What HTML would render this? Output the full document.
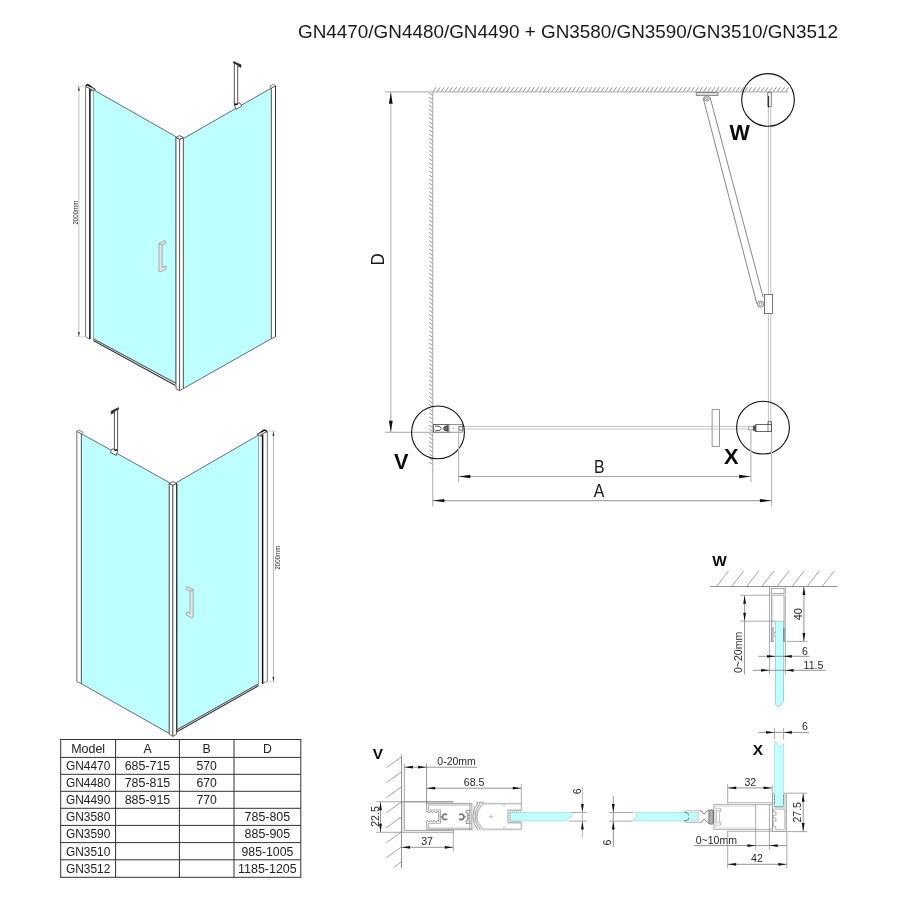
<!DOCTYPE html>
<html><head><meta charset="utf-8"><title>GN drawing</title>
<style>html,body{margin:0;padding:0;background:#fff;}svg{display:block;opacity:0.999;will-change:transform;font-family:'Liberation Sans', sans-serif;}</style>
</head><body>
<svg width="900" height="900" viewBox="0 0 900 900">
<rect x="0" y="0" width="900" height="900" fill="#ffffff"/>
<!-- title -->
<text x="298.00" y="38.40" font-size="18.6" text-anchor="start" font-weight="normal" fill="#1a1a1a" textLength="540.00" lengthAdjust="spacingAndGlyphs" >GN4470/GN4480/GN4490 + GN3580/GN3590/GN3510/GN3512</text>
<!-- iso drawing 1 -->
<g id="iso1">
<path d="M93.20 89.60 L176.00 136.70 L176.00 383.50 L93.20 338.70 Z" fill="#beffff" stroke="#4a4a4a" stroke-width="0.8" />
<path d="M183.30 138.60 L271.40 88.00 L271.40 338.70 L183.30 388.50 Z" fill="#beffff" stroke="#4a4a4a" stroke-width="0.8" />
<path d="M85.60 86.40 L89.80 88.40 L89.80 338.90 L85.60 336.90 Z" fill="#fff" stroke="#6a6a6a" stroke-width="0.9" />
<path d="M89.80 88.40 L93.20 89.60 L93.20 340.20 L89.80 338.90 Z" fill="#f4ffff" stroke="none" stroke-width="0" />
<line x1="89.90" y1="87.80" x2="89.90" y2="339.20" stroke="#161616" stroke-width="1.5" />
<path d="M85.60 86.20 L87.30 84.30 L95.40 89.40 L93.20 90.40 L90.60 89.00 Z" fill="#fff" stroke="#222" stroke-width="0.7" />
<line x1="85.80" y1="85.90" x2="87.40" y2="84.40" stroke="#111" stroke-width="1.3" />
<line x1="87.20" y1="84.50" x2="91.60" y2="87.20" stroke="#111" stroke-width="1.5" />
<line x1="91.60" y1="87.20" x2="95.40" y2="89.50" stroke="#333" stroke-width="0.9" />
<line x1="89.90" y1="90.70" x2="92.20" y2="90.70" stroke="#222" stroke-width="0.9" />
<line x1="93.30" y1="340.50" x2="175.50" y2="385.50" stroke="#333" stroke-width="1.2" />
<line x1="93.30" y1="338.70" x2="176.00" y2="383.20" stroke="#555" stroke-width="0.7" />
<path d="M176.00 137.50 L179.60 139.30 L179.60 390.70 L176.00 388.70 Z" fill="#fff" stroke="#555" stroke-width="0.9" />
<path d="M179.60 139.30 L183.30 137.60 L183.30 388.60 L179.60 390.70 Z" fill="#fff" stroke="#555" stroke-width="0.9" />
<path d="M176.00 137.50 L179.60 135.60 L183.30 137.60 L179.60 139.30 Z" fill="#fff" stroke="#333" stroke-width="0.8" />
<path d="M271.40 88.00 L275.50 85.80 L275.50 336.80 L271.40 338.70 Z" fill="#fff" stroke="#4a4a4a" stroke-width="0.8" />
<line x1="275.50" y1="86.00" x2="275.50" y2="336.80" stroke="#333" stroke-width="0.9" />
<path d="M271.40 88.00 L269.60 86.60 L273.60 84.20 L275.50 85.80 Z" fill="#fff" stroke="#4a4a4a" stroke-width="0.7" />
<path d="M234.30 63.00 L237.70 64.60 L237.70 105.00 L234.30 104.00 Z" fill="#fff" stroke="#2a2a2a" stroke-width="0.8" />
<path d="M233.60 61.40 L241.00 64.80 L241.00 67.40 L238.60 66.40 L238.60 65.20 L233.60 63.00 Z" fill="#333" stroke="#222" stroke-width="0.6" />
<path d="M234.20 104.40 L239.80 102.80 L241.80 106.00 L236.00 109.40 Z" fill="#fff" stroke="#333" stroke-width="0.8" />
<line x1="234.20" y1="104.40" x2="237.70" y2="104.60" stroke="#111" stroke-width="1.2" />
<line x1="234.20" y1="104.00" x2="235.00" y2="101.60" stroke="#4a4a4a" stroke-width="0.6" />
<path d="M159.00 243.40 L165.20 240.60 L166.00 243.20 L162.20 245.00 L162.20 267.60 L165.80 266.00 L166.00 269.00 L160.20 271.80 L159.00 271.20 Z" fill="#e6e6e6" stroke="#8c8c8c" stroke-width="0.7" />
<line x1="159.00" y1="243.40" x2="162.20" y2="245.00" stroke="#777" stroke-width="0.6" />
<line x1="78.90" y1="86.00" x2="78.90" y2="336.80" stroke="#c4c4c4" stroke-width="1.0" />
<line x1="76.00" y1="86.00" x2="85.60" y2="86.00" stroke="#d0d0d0" stroke-width="0.9" />
<line x1="76.00" y1="336.80" x2="85.60" y2="336.80" stroke="#d0d0d0" stroke-width="0.9" />
<path d="M78.90 86.20 L78.00 90.80 L79.80 90.80 Z" fill="#333" stroke="none" stroke-width="0" />
<path d="M78.90 336.60 L78.00 332.00 L79.80 332.00 Z" fill="#333" stroke="none" stroke-width="0" />
<text x="77.90" y="224.60" font-size="6.3" text-anchor="start" font-weight="normal" fill="#222" textLength="24.00" lengthAdjust="spacingAndGlyphs" transform="rotate(-90 77.90 224.60)" >2000mm</text>
</g>
<!-- iso drawing 2 -->
<g id="iso2">
<path d="M81.30 433.70 L169.30 482.50 L169.30 733.50 L81.30 683.70 Z" fill="#beffff" stroke="#4a4a4a" stroke-width="0.8" />
<path d="M176.50 482.50 L258.80 434.90 L258.80 683.70 L176.50 730.00 Z" fill="#beffff" stroke="#4a4a4a" stroke-width="0.8" />
<path d="M76.80 431.40 L81.30 433.70 L81.30 683.70 L76.80 681.60 Z" fill="#fff" stroke="#4a4a4a" stroke-width="0.8" />
<path d="M76.80 431.40 L78.80 430.00 L83.20 432.40 L81.30 433.70 Z" fill="#fff" stroke="#4a4a4a" stroke-width="0.7" />
<path d="M169.30 483.40 L172.90 485.30 L172.90 736.40 L169.30 734.40 Z" fill="#fff" stroke="#555" stroke-width="0.9" />
<path d="M172.90 485.30 L176.50 483.40 L176.50 734.20 L172.90 736.40 Z" fill="#fff" stroke="#555" stroke-width="0.9" />
<path d="M169.30 483.40 L172.90 481.60 L176.50 483.40 L172.90 485.30 Z" fill="#fff" stroke="#333" stroke-width="0.8" />
<line x1="176.90" y1="484.00" x2="176.90" y2="731.50" stroke="#222" stroke-width="1.0" />
<line x1="176.50" y1="732.00" x2="258.70" y2="685.60" stroke="#333" stroke-width="1.2" />
<line x1="176.50" y1="730.00" x2="258.70" y2="683.70" stroke="#555" stroke-width="0.7" />
<path d="M258.80 434.90 L262.60 433.60 L262.60 683.40 L258.80 685.40 Z" fill="#f4ffff" stroke="none" stroke-width="0" />
<path d="M262.60 433.60 L267.40 431.60 L267.40 681.20 L262.60 683.40 Z" fill="#fff" stroke="#8a8a8a" stroke-width="0.9" />
<line x1="262.60" y1="434.60" x2="262.60" y2="683.80" stroke="#161616" stroke-width="1.5" />
<line x1="267.40" y1="431.60" x2="267.40" y2="681.20" stroke="#8a8a8a" stroke-width="1.0" />
<path d="M257.20 434.40 L264.60 429.80 L267.20 431.40 L262.60 433.80 L258.80 435.60 Z" fill="#fff" stroke="#222" stroke-width="0.7" />
<line x1="257.40" y1="434.30" x2="261.00" y2="432.10" stroke="#333" stroke-width="0.9" />
<line x1="261.00" y1="432.10" x2="264.60" y2="429.90" stroke="#111" stroke-width="1.5" />
<line x1="264.40" y1="429.90" x2="267.20" y2="431.50" stroke="#111" stroke-width="1.3" />
<line x1="260.20" y1="436.00" x2="262.60" y2="436.00" stroke="#222" stroke-width="0.9" />
<path d="M114.40 410.40 L117.60 408.80 L117.60 449.40 L114.40 450.40 Z" fill="#fff" stroke="#2a2a2a" stroke-width="0.8" />
<path d="M111.20 411.20 L118.60 407.60 L118.60 409.20 L113.80 411.60 L113.80 412.80 L111.20 414.00 Z" fill="#333" stroke="#222" stroke-width="0.6" />
<path d="M112.00 448.80 L117.80 450.60 L116.20 455.40 L110.20 452.40 Z" fill="#fff" stroke="#333" stroke-width="0.8" />
<line x1="114.40" y1="450.40" x2="117.60" y2="450.00" stroke="#111" stroke-width="1.2" />
<path d="M193.20 589.40 L187.00 586.60 L186.20 589.20 L190.00 591.00 L190.00 613.60 L186.40 612.00 L186.20 615.00 L192.00 617.80 L193.20 617.20 Z" fill="#e6e6e6" stroke="#8c8c8c" stroke-width="0.7" />
<line x1="193.20" y1="589.40" x2="190.00" y2="591.00" stroke="#777" stroke-width="0.6" />
<line x1="273.40" y1="431.10" x2="273.40" y2="681.80" stroke="#b8b8b8" stroke-width="1.0" />
<line x1="267.40" y1="431.10" x2="276.00" y2="431.10" stroke="#d0d0d0" stroke-width="0.9" />
<line x1="267.40" y1="681.80" x2="276.00" y2="681.80" stroke="#d0d0d0" stroke-width="0.9" />
<path d="M273.40 431.30 L272.50 435.90 L274.30 435.90 Z" fill="#333" stroke="none" stroke-width="0" />
<path d="M273.40 681.60 L272.50 677.00 L274.30 677.00 Z" fill="#333" stroke="none" stroke-width="0" />
<text x="279.60" y="569.60" font-size="6.3" text-anchor="start" font-weight="normal" fill="#222" textLength="24.00" lengthAdjust="spacingAndGlyphs" transform="rotate(-90 279.60 569.60)" >2000mm</text>
</g>
<!-- table -->
<g id="table">
<line x1="60.70" y1="739.50" x2="300.80" y2="739.50" stroke="#333" stroke-width="1" />
<line x1="60.70" y1="757.40" x2="300.80" y2="757.40" stroke="#333" stroke-width="1" />
<line x1="60.70" y1="774.30" x2="300.80" y2="774.30" stroke="#333" stroke-width="1" />
<line x1="60.70" y1="791.30" x2="300.80" y2="791.30" stroke="#333" stroke-width="1" />
<line x1="60.70" y1="808.30" x2="300.80" y2="808.30" stroke="#333" stroke-width="1" />
<line x1="60.70" y1="825.40" x2="300.80" y2="825.40" stroke="#333" stroke-width="1" />
<line x1="60.70" y1="842.60" x2="300.80" y2="842.60" stroke="#333" stroke-width="1" />
<line x1="60.70" y1="859.80" x2="300.80" y2="859.80" stroke="#333" stroke-width="1" />
<line x1="60.70" y1="877.30" x2="300.80" y2="877.30" stroke="#333" stroke-width="1" />
<line x1="60.70" y1="739.00" x2="60.70" y2="877.80" stroke="#333" stroke-width="1" />
<line x1="115.60" y1="739.00" x2="115.60" y2="877.80" stroke="#333" stroke-width="1" />
<line x1="179.40" y1="739.00" x2="179.40" y2="877.80" stroke="#333" stroke-width="1" />
<line x1="234.00" y1="739.00" x2="234.00" y2="877.80" stroke="#333" stroke-width="1" />
<line x1="300.80" y1="739.00" x2="300.80" y2="877.80" stroke="#333" stroke-width="1" />
<text x="88.15" y="752.75" font-size="12.3" text-anchor="middle" font-weight="normal" fill="#222" textLength="34.00" lengthAdjust="spacingAndGlyphs" >Model</text>
<text x="147.50" y="752.75" font-size="12.3" text-anchor="middle" font-weight="normal" fill="#222" >A</text>
<text x="206.70" y="752.75" font-size="12.3" text-anchor="middle" font-weight="normal" fill="#222" >B</text>
<text x="267.40" y="752.75" font-size="12.3" text-anchor="middle" font-weight="normal" fill="#222" >D</text>
<text x="88.15" y="770.15" font-size="12.3" text-anchor="middle" font-weight="normal" fill="#222" textLength="44.40" lengthAdjust="spacingAndGlyphs" >GN4470</text>
<text x="147.50" y="770.15" font-size="12.3" text-anchor="middle" font-weight="normal" fill="#222" textLength="45.60" lengthAdjust="spacingAndGlyphs" >685-715</text>
<text x="206.70" y="770.15" font-size="12.3" text-anchor="middle" font-weight="normal" fill="#222" textLength="20.40" lengthAdjust="spacingAndGlyphs" >570</text>
<text x="88.15" y="787.10" font-size="12.3" text-anchor="middle" font-weight="normal" fill="#222" textLength="44.40" lengthAdjust="spacingAndGlyphs" >GN4480</text>
<text x="147.50" y="787.10" font-size="12.3" text-anchor="middle" font-weight="normal" fill="#222" textLength="45.60" lengthAdjust="spacingAndGlyphs" >785-815</text>
<text x="206.70" y="787.10" font-size="12.3" text-anchor="middle" font-weight="normal" fill="#222" textLength="20.40" lengthAdjust="spacingAndGlyphs" >670</text>
<text x="88.15" y="804.10" font-size="12.3" text-anchor="middle" font-weight="normal" fill="#222" textLength="44.40" lengthAdjust="spacingAndGlyphs" >GN4490</text>
<text x="147.50" y="804.10" font-size="12.3" text-anchor="middle" font-weight="normal" fill="#222" textLength="45.60" lengthAdjust="spacingAndGlyphs" >885-915</text>
<text x="206.70" y="804.10" font-size="12.3" text-anchor="middle" font-weight="normal" fill="#222" textLength="20.40" lengthAdjust="spacingAndGlyphs" >770</text>
<text x="88.15" y="821.15" font-size="12.3" text-anchor="middle" font-weight="normal" fill="#222" textLength="44.40" lengthAdjust="spacingAndGlyphs" >GN3580</text>
<text x="267.40" y="821.15" font-size="12.3" text-anchor="middle" font-weight="normal" fill="#222" textLength="45.60" lengthAdjust="spacingAndGlyphs" >785-805</text>
<text x="88.15" y="838.30" font-size="12.3" text-anchor="middle" font-weight="normal" fill="#222" textLength="44.40" lengthAdjust="spacingAndGlyphs" >GN3590</text>
<text x="267.40" y="838.30" font-size="12.3" text-anchor="middle" font-weight="normal" fill="#222" textLength="45.60" lengthAdjust="spacingAndGlyphs" >885-905</text>
<text x="88.15" y="855.50" font-size="12.3" text-anchor="middle" font-weight="normal" fill="#222" textLength="44.40" lengthAdjust="spacingAndGlyphs" >GN3510</text>
<text x="267.40" y="855.50" font-size="12.3" text-anchor="middle" font-weight="normal" fill="#222" textLength="51.80" lengthAdjust="spacingAndGlyphs" >985-1005</text>
<text x="88.15" y="872.85" font-size="12.3" text-anchor="middle" font-weight="normal" fill="#222" textLength="44.40" lengthAdjust="spacingAndGlyphs" >GN3512</text>
<text x="267.40" y="872.85" font-size="12.3" text-anchor="middle" font-weight="normal" fill="#222" textLength="58.60" lengthAdjust="spacingAndGlyphs" >1185-1205</text>
</g>
<!-- plan view -->
<g id="plan">
<line x1="432.70" y1="91.90" x2="788.00" y2="91.90" stroke="#bcbcbc" stroke-width="1.3" />
<line x1="433.00" y1="91.60" x2="436.10" y2="87.20" stroke="#707070" stroke-width="0.75" />
<line x1="437.10" y1="91.60" x2="440.20" y2="87.20" stroke="#707070" stroke-width="0.75" />
<line x1="441.20" y1="91.60" x2="444.30" y2="87.20" stroke="#707070" stroke-width="0.75" />
<line x1="445.30" y1="91.60" x2="448.40" y2="87.20" stroke="#707070" stroke-width="0.75" />
<line x1="449.40" y1="91.60" x2="452.50" y2="87.20" stroke="#707070" stroke-width="0.75" />
<line x1="453.50" y1="91.60" x2="456.60" y2="87.20" stroke="#707070" stroke-width="0.75" />
<line x1="457.60" y1="91.60" x2="460.70" y2="87.20" stroke="#707070" stroke-width="0.75" />
<line x1="461.70" y1="91.60" x2="464.80" y2="87.20" stroke="#707070" stroke-width="0.75" />
<line x1="465.80" y1="91.60" x2="468.90" y2="87.20" stroke="#707070" stroke-width="0.75" />
<line x1="469.90" y1="91.60" x2="473.00" y2="87.20" stroke="#707070" stroke-width="0.75" />
<line x1="474.00" y1="91.60" x2="477.10" y2="87.20" stroke="#707070" stroke-width="0.75" />
<line x1="478.10" y1="91.60" x2="481.20" y2="87.20" stroke="#707070" stroke-width="0.75" />
<line x1="482.20" y1="91.60" x2="485.30" y2="87.20" stroke="#707070" stroke-width="0.75" />
<line x1="486.30" y1="91.60" x2="489.40" y2="87.20" stroke="#707070" stroke-width="0.75" />
<line x1="490.40" y1="91.60" x2="493.50" y2="87.20" stroke="#707070" stroke-width="0.75" />
<line x1="494.50" y1="91.60" x2="497.60" y2="87.20" stroke="#707070" stroke-width="0.75" />
<line x1="498.60" y1="91.60" x2="501.70" y2="87.20" stroke="#707070" stroke-width="0.75" />
<line x1="502.70" y1="91.60" x2="505.80" y2="87.20" stroke="#707070" stroke-width="0.75" />
<line x1="506.80" y1="91.60" x2="509.90" y2="87.20" stroke="#707070" stroke-width="0.75" />
<line x1="510.90" y1="91.60" x2="514.00" y2="87.20" stroke="#707070" stroke-width="0.75" />
<line x1="515.00" y1="91.60" x2="518.10" y2="87.20" stroke="#707070" stroke-width="0.75" />
<line x1="519.10" y1="91.60" x2="522.20" y2="87.20" stroke="#707070" stroke-width="0.75" />
<line x1="523.20" y1="91.60" x2="526.30" y2="87.20" stroke="#707070" stroke-width="0.75" />
<line x1="527.30" y1="91.60" x2="530.40" y2="87.20" stroke="#707070" stroke-width="0.75" />
<line x1="531.40" y1="91.60" x2="534.50" y2="87.20" stroke="#707070" stroke-width="0.75" />
<line x1="535.50" y1="91.60" x2="538.60" y2="87.20" stroke="#707070" stroke-width="0.75" />
<line x1="539.60" y1="91.60" x2="542.70" y2="87.20" stroke="#707070" stroke-width="0.75" />
<line x1="543.70" y1="91.60" x2="546.80" y2="87.20" stroke="#707070" stroke-width="0.75" />
<line x1="547.80" y1="91.60" x2="550.90" y2="87.20" stroke="#707070" stroke-width="0.75" />
<line x1="551.90" y1="91.60" x2="555.00" y2="87.20" stroke="#707070" stroke-width="0.75" />
<line x1="556.00" y1="91.60" x2="559.10" y2="87.20" stroke="#707070" stroke-width="0.75" />
<line x1="560.10" y1="91.60" x2="563.20" y2="87.20" stroke="#707070" stroke-width="0.75" />
<line x1="564.20" y1="91.60" x2="567.30" y2="87.20" stroke="#707070" stroke-width="0.75" />
<line x1="568.30" y1="91.60" x2="571.40" y2="87.20" stroke="#707070" stroke-width="0.75" />
<line x1="572.40" y1="91.60" x2="575.50" y2="87.20" stroke="#707070" stroke-width="0.75" />
<line x1="576.50" y1="91.60" x2="579.60" y2="87.20" stroke="#707070" stroke-width="0.75" />
<line x1="580.60" y1="91.60" x2="583.70" y2="87.20" stroke="#707070" stroke-width="0.75" />
<line x1="584.70" y1="91.60" x2="587.80" y2="87.20" stroke="#707070" stroke-width="0.75" />
<line x1="588.80" y1="91.60" x2="591.90" y2="87.20" stroke="#707070" stroke-width="0.75" />
<line x1="592.90" y1="91.60" x2="596.00" y2="87.20" stroke="#707070" stroke-width="0.75" />
<line x1="597.00" y1="91.60" x2="600.10" y2="87.20" stroke="#707070" stroke-width="0.75" />
<line x1="601.10" y1="91.60" x2="604.20" y2="87.20" stroke="#707070" stroke-width="0.75" />
<line x1="605.20" y1="91.60" x2="608.30" y2="87.20" stroke="#707070" stroke-width="0.75" />
<line x1="609.30" y1="91.60" x2="612.40" y2="87.20" stroke="#707070" stroke-width="0.75" />
<line x1="613.40" y1="91.60" x2="616.50" y2="87.20" stroke="#707070" stroke-width="0.75" />
<line x1="617.50" y1="91.60" x2="620.60" y2="87.20" stroke="#707070" stroke-width="0.75" />
<line x1="621.60" y1="91.60" x2="624.70" y2="87.20" stroke="#707070" stroke-width="0.75" />
<line x1="625.70" y1="91.60" x2="628.80" y2="87.20" stroke="#707070" stroke-width="0.75" />
<line x1="629.80" y1="91.60" x2="632.90" y2="87.20" stroke="#707070" stroke-width="0.75" />
<line x1="633.90" y1="91.60" x2="637.00" y2="87.20" stroke="#707070" stroke-width="0.75" />
<line x1="638.00" y1="91.60" x2="641.10" y2="87.20" stroke="#707070" stroke-width="0.75" />
<line x1="642.10" y1="91.60" x2="645.20" y2="87.20" stroke="#707070" stroke-width="0.75" />
<line x1="646.20" y1="91.60" x2="649.30" y2="87.20" stroke="#707070" stroke-width="0.75" />
<line x1="650.30" y1="91.60" x2="653.40" y2="87.20" stroke="#707070" stroke-width="0.75" />
<line x1="654.40" y1="91.60" x2="657.50" y2="87.20" stroke="#707070" stroke-width="0.75" />
<line x1="658.50" y1="91.60" x2="661.60" y2="87.20" stroke="#707070" stroke-width="0.75" />
<line x1="662.60" y1="91.60" x2="665.70" y2="87.20" stroke="#707070" stroke-width="0.75" />
<line x1="666.70" y1="91.60" x2="669.80" y2="87.20" stroke="#707070" stroke-width="0.75" />
<line x1="670.80" y1="91.60" x2="673.90" y2="87.20" stroke="#707070" stroke-width="0.75" />
<line x1="674.90" y1="91.60" x2="678.00" y2="87.20" stroke="#707070" stroke-width="0.75" />
<line x1="679.00" y1="91.60" x2="682.10" y2="87.20" stroke="#707070" stroke-width="0.75" />
<line x1="683.10" y1="91.60" x2="686.20" y2="87.20" stroke="#707070" stroke-width="0.75" />
<line x1="687.20" y1="91.60" x2="690.30" y2="87.20" stroke="#707070" stroke-width="0.75" />
<line x1="691.30" y1="91.60" x2="694.40" y2="87.20" stroke="#707070" stroke-width="0.75" />
<line x1="695.40" y1="91.60" x2="698.50" y2="87.20" stroke="#707070" stroke-width="0.75" />
<line x1="699.50" y1="91.60" x2="702.60" y2="87.20" stroke="#707070" stroke-width="0.75" />
<line x1="703.60" y1="91.60" x2="706.70" y2="87.20" stroke="#707070" stroke-width="0.75" />
<line x1="707.70" y1="91.60" x2="710.80" y2="87.20" stroke="#707070" stroke-width="0.75" />
<line x1="711.80" y1="91.60" x2="714.90" y2="87.20" stroke="#707070" stroke-width="0.75" />
<line x1="715.90" y1="91.60" x2="719.00" y2="87.20" stroke="#707070" stroke-width="0.75" />
<line x1="720.00" y1="91.60" x2="723.10" y2="87.20" stroke="#707070" stroke-width="0.75" />
<line x1="724.10" y1="91.60" x2="727.20" y2="87.20" stroke="#707070" stroke-width="0.75" />
<line x1="728.20" y1="91.60" x2="731.30" y2="87.20" stroke="#707070" stroke-width="0.75" />
<line x1="732.30" y1="91.60" x2="735.40" y2="87.20" stroke="#707070" stroke-width="0.75" />
<line x1="736.40" y1="91.60" x2="739.50" y2="87.20" stroke="#707070" stroke-width="0.75" />
<line x1="740.50" y1="91.60" x2="743.60" y2="87.20" stroke="#707070" stroke-width="0.75" />
<line x1="744.60" y1="91.60" x2="747.70" y2="87.20" stroke="#707070" stroke-width="0.75" />
<line x1="748.70" y1="91.60" x2="751.80" y2="87.20" stroke="#707070" stroke-width="0.75" />
<line x1="752.80" y1="91.60" x2="755.90" y2="87.20" stroke="#707070" stroke-width="0.75" />
<line x1="756.90" y1="91.60" x2="760.00" y2="87.20" stroke="#707070" stroke-width="0.75" />
<line x1="761.00" y1="91.60" x2="764.10" y2="87.20" stroke="#707070" stroke-width="0.75" />
<line x1="765.10" y1="91.60" x2="768.20" y2="87.20" stroke="#707070" stroke-width="0.75" />
<line x1="769.20" y1="91.60" x2="772.30" y2="87.20" stroke="#707070" stroke-width="0.75" />
<line x1="773.30" y1="91.60" x2="776.40" y2="87.20" stroke="#707070" stroke-width="0.75" />
<line x1="777.40" y1="91.60" x2="780.50" y2="87.20" stroke="#707070" stroke-width="0.75" />
<line x1="781.50" y1="91.60" x2="784.60" y2="87.20" stroke="#707070" stroke-width="0.75" />
<line x1="785.60" y1="91.60" x2="788.70" y2="87.20" stroke="#707070" stroke-width="0.75" />
<line x1="432.70" y1="91.90" x2="432.70" y2="506.40" stroke="#bcbcbc" stroke-width="1.3" />
<line x1="432.50" y1="95.40" x2="429.20" y2="93.00" stroke="#707070" stroke-width="0.75" />
<line x1="432.50" y1="99.50" x2="429.20" y2="97.10" stroke="#707070" stroke-width="0.75" />
<line x1="432.50" y1="103.60" x2="429.20" y2="101.20" stroke="#707070" stroke-width="0.75" />
<line x1="432.50" y1="107.70" x2="429.20" y2="105.30" stroke="#707070" stroke-width="0.75" />
<line x1="432.50" y1="111.80" x2="429.20" y2="109.40" stroke="#707070" stroke-width="0.75" />
<line x1="432.50" y1="115.90" x2="429.20" y2="113.50" stroke="#707070" stroke-width="0.75" />
<line x1="432.50" y1="120.00" x2="429.20" y2="117.60" stroke="#707070" stroke-width="0.75" />
<line x1="432.50" y1="124.10" x2="429.20" y2="121.70" stroke="#707070" stroke-width="0.75" />
<line x1="432.50" y1="128.20" x2="429.20" y2="125.80" stroke="#707070" stroke-width="0.75" />
<line x1="432.50" y1="132.30" x2="429.20" y2="129.90" stroke="#707070" stroke-width="0.75" />
<line x1="432.50" y1="136.40" x2="429.20" y2="134.00" stroke="#707070" stroke-width="0.75" />
<line x1="432.50" y1="140.50" x2="429.20" y2="138.10" stroke="#707070" stroke-width="0.75" />
<line x1="432.50" y1="144.60" x2="429.20" y2="142.20" stroke="#707070" stroke-width="0.75" />
<line x1="432.50" y1="148.70" x2="429.20" y2="146.30" stroke="#707070" stroke-width="0.75" />
<line x1="432.50" y1="152.80" x2="429.20" y2="150.40" stroke="#707070" stroke-width="0.75" />
<line x1="432.50" y1="156.90" x2="429.20" y2="154.50" stroke="#707070" stroke-width="0.75" />
<line x1="432.50" y1="161.00" x2="429.20" y2="158.60" stroke="#707070" stroke-width="0.75" />
<line x1="432.50" y1="165.10" x2="429.20" y2="162.70" stroke="#707070" stroke-width="0.75" />
<line x1="432.50" y1="169.20" x2="429.20" y2="166.80" stroke="#707070" stroke-width="0.75" />
<line x1="432.50" y1="173.30" x2="429.20" y2="170.90" stroke="#707070" stroke-width="0.75" />
<line x1="432.50" y1="177.40" x2="429.20" y2="175.00" stroke="#707070" stroke-width="0.75" />
<line x1="432.50" y1="181.50" x2="429.20" y2="179.10" stroke="#707070" stroke-width="0.75" />
<line x1="432.50" y1="185.60" x2="429.20" y2="183.20" stroke="#707070" stroke-width="0.75" />
<line x1="432.50" y1="189.70" x2="429.20" y2="187.30" stroke="#707070" stroke-width="0.75" />
<line x1="432.50" y1="193.80" x2="429.20" y2="191.40" stroke="#707070" stroke-width="0.75" />
<line x1="432.50" y1="197.90" x2="429.20" y2="195.50" stroke="#707070" stroke-width="0.75" />
<line x1="432.50" y1="202.00" x2="429.20" y2="199.60" stroke="#707070" stroke-width="0.75" />
<line x1="432.50" y1="206.10" x2="429.20" y2="203.70" stroke="#707070" stroke-width="0.75" />
<line x1="432.50" y1="210.20" x2="429.20" y2="207.80" stroke="#707070" stroke-width="0.75" />
<line x1="432.50" y1="214.30" x2="429.20" y2="211.90" stroke="#707070" stroke-width="0.75" />
<line x1="432.50" y1="218.40" x2="429.20" y2="216.00" stroke="#707070" stroke-width="0.75" />
<line x1="432.50" y1="222.50" x2="429.20" y2="220.10" stroke="#707070" stroke-width="0.75" />
<line x1="432.50" y1="226.60" x2="429.20" y2="224.20" stroke="#707070" stroke-width="0.75" />
<line x1="432.50" y1="230.70" x2="429.20" y2="228.30" stroke="#707070" stroke-width="0.75" />
<line x1="432.50" y1="234.80" x2="429.20" y2="232.40" stroke="#707070" stroke-width="0.75" />
<line x1="432.50" y1="238.90" x2="429.20" y2="236.50" stroke="#707070" stroke-width="0.75" />
<line x1="432.50" y1="243.00" x2="429.20" y2="240.60" stroke="#707070" stroke-width="0.75" />
<line x1="432.50" y1="247.10" x2="429.20" y2="244.70" stroke="#707070" stroke-width="0.75" />
<line x1="432.50" y1="251.20" x2="429.20" y2="248.80" stroke="#707070" stroke-width="0.75" />
<line x1="432.50" y1="255.30" x2="429.20" y2="252.90" stroke="#707070" stroke-width="0.75" />
<line x1="432.50" y1="259.40" x2="429.20" y2="257.00" stroke="#707070" stroke-width="0.75" />
<line x1="432.50" y1="263.50" x2="429.20" y2="261.10" stroke="#707070" stroke-width="0.75" />
<line x1="432.50" y1="267.60" x2="429.20" y2="265.20" stroke="#707070" stroke-width="0.75" />
<line x1="432.50" y1="271.70" x2="429.20" y2="269.30" stroke="#707070" stroke-width="0.75" />
<line x1="432.50" y1="275.80" x2="429.20" y2="273.40" stroke="#707070" stroke-width="0.75" />
<line x1="432.50" y1="279.90" x2="429.20" y2="277.50" stroke="#707070" stroke-width="0.75" />
<line x1="432.50" y1="284.00" x2="429.20" y2="281.60" stroke="#707070" stroke-width="0.75" />
<line x1="432.50" y1="288.10" x2="429.20" y2="285.70" stroke="#707070" stroke-width="0.75" />
<line x1="432.50" y1="292.20" x2="429.20" y2="289.80" stroke="#707070" stroke-width="0.75" />
<line x1="432.50" y1="296.30" x2="429.20" y2="293.90" stroke="#707070" stroke-width="0.75" />
<line x1="432.50" y1="300.40" x2="429.20" y2="298.00" stroke="#707070" stroke-width="0.75" />
<line x1="432.50" y1="304.50" x2="429.20" y2="302.10" stroke="#707070" stroke-width="0.75" />
<line x1="432.50" y1="308.60" x2="429.20" y2="306.20" stroke="#707070" stroke-width="0.75" />
<line x1="432.50" y1="312.70" x2="429.20" y2="310.30" stroke="#707070" stroke-width="0.75" />
<line x1="432.50" y1="316.80" x2="429.20" y2="314.40" stroke="#707070" stroke-width="0.75" />
<line x1="432.50" y1="320.90" x2="429.20" y2="318.50" stroke="#707070" stroke-width="0.75" />
<line x1="432.50" y1="325.00" x2="429.20" y2="322.60" stroke="#707070" stroke-width="0.75" />
<line x1="432.50" y1="329.10" x2="429.20" y2="326.70" stroke="#707070" stroke-width="0.75" />
<line x1="432.50" y1="333.20" x2="429.20" y2="330.80" stroke="#707070" stroke-width="0.75" />
<line x1="432.50" y1="337.30" x2="429.20" y2="334.90" stroke="#707070" stroke-width="0.75" />
<line x1="432.50" y1="341.40" x2="429.20" y2="339.00" stroke="#707070" stroke-width="0.75" />
<line x1="432.50" y1="345.50" x2="429.20" y2="343.10" stroke="#707070" stroke-width="0.75" />
<line x1="432.50" y1="349.60" x2="429.20" y2="347.20" stroke="#707070" stroke-width="0.75" />
<line x1="432.50" y1="353.70" x2="429.20" y2="351.30" stroke="#707070" stroke-width="0.75" />
<line x1="432.50" y1="357.80" x2="429.20" y2="355.40" stroke="#707070" stroke-width="0.75" />
<line x1="432.50" y1="361.90" x2="429.20" y2="359.50" stroke="#707070" stroke-width="0.75" />
<line x1="432.50" y1="366.00" x2="429.20" y2="363.60" stroke="#707070" stroke-width="0.75" />
<line x1="432.50" y1="370.10" x2="429.20" y2="367.70" stroke="#707070" stroke-width="0.75" />
<line x1="432.50" y1="374.20" x2="429.20" y2="371.80" stroke="#707070" stroke-width="0.75" />
<line x1="432.50" y1="378.30" x2="429.20" y2="375.90" stroke="#707070" stroke-width="0.75" />
<line x1="432.50" y1="382.40" x2="429.20" y2="380.00" stroke="#707070" stroke-width="0.75" />
<line x1="432.50" y1="386.50" x2="429.20" y2="384.10" stroke="#707070" stroke-width="0.75" />
<line x1="432.50" y1="390.60" x2="429.20" y2="388.20" stroke="#707070" stroke-width="0.75" />
<line x1="432.50" y1="394.70" x2="429.20" y2="392.30" stroke="#707070" stroke-width="0.75" />
<line x1="432.50" y1="398.80" x2="429.20" y2="396.40" stroke="#707070" stroke-width="0.75" />
<line x1="432.50" y1="402.90" x2="429.20" y2="400.50" stroke="#707070" stroke-width="0.75" />
<line x1="432.50" y1="407.00" x2="429.20" y2="404.60" stroke="#707070" stroke-width="0.75" />
<line x1="432.50" y1="411.10" x2="429.20" y2="408.70" stroke="#707070" stroke-width="0.75" />
<line x1="432.50" y1="415.20" x2="429.20" y2="412.80" stroke="#707070" stroke-width="0.75" />
<line x1="432.50" y1="419.30" x2="429.20" y2="416.90" stroke="#707070" stroke-width="0.75" />
<line x1="432.50" y1="423.40" x2="429.20" y2="421.00" stroke="#707070" stroke-width="0.75" />
<line x1="432.50" y1="427.50" x2="429.20" y2="425.10" stroke="#707070" stroke-width="0.75" />
<line x1="432.50" y1="431.60" x2="429.20" y2="429.20" stroke="#707070" stroke-width="0.75" />
<line x1="432.50" y1="435.70" x2="429.20" y2="433.30" stroke="#707070" stroke-width="0.75" />
<line x1="432.50" y1="439.80" x2="429.20" y2="437.40" stroke="#707070" stroke-width="0.75" />
<line x1="432.50" y1="443.90" x2="429.20" y2="441.50" stroke="#707070" stroke-width="0.75" />
<line x1="432.50" y1="448.00" x2="429.20" y2="445.60" stroke="#707070" stroke-width="0.75" />
<line x1="432.50" y1="452.10" x2="429.20" y2="449.70" stroke="#707070" stroke-width="0.75" />
<line x1="432.50" y1="456.20" x2="429.20" y2="453.80" stroke="#707070" stroke-width="0.75" />
<line x1="432.50" y1="460.30" x2="429.20" y2="457.90" stroke="#707070" stroke-width="0.75" />
<line x1="432.50" y1="464.40" x2="429.20" y2="462.00" stroke="#707070" stroke-width="0.75" />
<line x1="390.80" y1="92.00" x2="390.80" y2="432.40" stroke="#bcbcbc" stroke-width="1.2" />
<line x1="385.00" y1="91.90" x2="432.70" y2="91.90" stroke="#bcbcbc" stroke-width="1.2" />
<line x1="385.00" y1="432.40" x2="433.00" y2="432.40" stroke="#bcbcbc" stroke-width="1.2" />
<path d="M390.80 92.20 L388.90 103.70 L392.70 103.70 Z" fill="#111" stroke="none" stroke-width="0" />
<path d="M390.80 432.20 L388.90 420.70 L392.70 420.70 Z" fill="#111" stroke="none" stroke-width="0" />
<text x="384.40" y="265.60" font-size="18.2" text-anchor="start" font-weight="normal" fill="#1a1a1a" textLength="12.20" lengthAdjust="spacingAndGlyphs" transform="rotate(-90 384.40 265.60)" >D</text>
<line x1="768.40" y1="92.00" x2="768.40" y2="425.00" stroke="#bcbcbc" stroke-width="0.9" />
<line x1="770.80" y1="92.00" x2="770.80" y2="425.00" stroke="#bcbcbc" stroke-width="0.9" />
<rect x="767.80" y="92.40" width="3.40" height="14.20" fill="#fff" stroke="#555" stroke-width="0.7"/>
<line x1="768.60" y1="96.00" x2="768.60" y2="107.50" stroke="#222" stroke-width="1.0" />
<line x1="462.00" y1="426.40" x2="748.60" y2="426.40" stroke="#bcbcbc" stroke-width="0.9" />
<line x1="462.00" y1="429.00" x2="748.60" y2="429.00" stroke="#bcbcbc" stroke-width="0.9" />
<rect x="696.20" y="92.40" width="21.80" height="3.20" fill="#ddd" stroke="#666" stroke-width="0.7"/>
<line x1="703.00" y1="97.50" x2="756.80" y2="303.50" stroke="#555" stroke-width="0.7" />
<line x1="710.00" y1="97.00" x2="763.10" y2="297.00" stroke="#555" stroke-width="0.7" />
<circle cx="706.70" cy="98.50" r="2.60" fill="#fff" stroke="#555" stroke-width="0.7"/>
<circle cx="706.70" cy="98.50" r="1.10" fill="none" stroke="#555" stroke-width="0.6"/>
<circle cx="760.50" cy="304.10" r="3.10" fill="#fff" stroke="#555" stroke-width="0.7"/>
<circle cx="760.50" cy="304.10" r="1.40" fill="none" stroke="#555" stroke-width="0.6"/>
<rect x="764.40" y="294.40" width="8.00" height="19.00" fill="#fff" stroke="#555" stroke-width="0.8"/>
<rect x="712.10" y="409.70" width="7.40" height="36.60" fill="#fff" stroke="#666" stroke-width="0.7"/>
<line x1="712.10" y1="426.40" x2="719.50" y2="426.40" stroke="#bcbcbc" stroke-width="0.8" />
<line x1="712.10" y1="429.00" x2="719.50" y2="429.00" stroke="#bcbcbc" stroke-width="0.8" />
<rect x="433.40" y="424.60" width="15.60" height="7.60" fill="#fff" stroke="#444" stroke-width="0.8"/>
<path d="M435.00 426.00 L439.60 426.40 L441.40 428.40 L439.60 430.40 L435.00 430.80" fill="none" stroke="#222" stroke-width="0.8" />
<path d="M447.80 425.60 L444.60 426.40 L443.40 428.40 L444.60 430.40 L447.80 431.20 Z" fill="#666" stroke="#222" stroke-width="0.7" />
<rect x="449.00" y="424.60" width="13.40" height="7.60" fill="#fff" stroke="#666" stroke-width="0.7"/>
<circle cx="453.40" cy="428.40" r="0.60" fill="#888" stroke="none" stroke-width="0"/>
<path d="M462.40 426.60 L458.80 426.60 L458.80 430.20 L462.40 430.20" fill="none" stroke="#333" stroke-width="0.7" />
<rect x="755.80" y="424.60" width="15.80" height="7.00" fill="#fff" stroke="#444" stroke-width="0.8"/>
<rect x="748.80" y="426.80" width="4.60" height="3.00" fill="#fff" stroke="#666" stroke-width="0.6"/>
<path d="M753.40 426.00 L755.80 425.20 L755.80 431.20 L753.40 430.40 Z" fill="#555" stroke="#333" stroke-width="0.5" />
<line x1="768.00" y1="421.60" x2="768.00" y2="431.60" stroke="#444" stroke-width="0.7" />
<line x1="771.40" y1="421.60" x2="771.40" y2="431.60" stroke="#444" stroke-width="0.7" />
<line x1="768.00" y1="421.60" x2="771.40" y2="421.60" stroke="#444" stroke-width="0.7" />
<circle cx="768.00" cy="99.90" r="26.30" fill="none" stroke="#111" stroke-width="1.1"/>
<circle cx="438.00" cy="432.40" r="26.40" fill="none" stroke="#111" stroke-width="1.1"/>
<circle cx="763.00" cy="427.60" r="26.40" fill="none" stroke="#111" stroke-width="1.1"/>
<line x1="458.60" y1="431.00" x2="458.60" y2="482.00" stroke="#bcbcbc" stroke-width="1.2" />
<line x1="750.90" y1="429.60" x2="750.90" y2="482.00" stroke="#bcbcbc" stroke-width="1.2" />
<line x1="458.60" y1="476.50" x2="750.90" y2="476.50" stroke="#a8a8a8" stroke-width="1.2" />
<path d="M458.80 476.50 L470.30 474.80 L470.30 478.20 Z" fill="#111" stroke="none" stroke-width="0" />
<path d="M750.70 476.50 L739.20 474.80 L739.20 478.20 Z" fill="#111" stroke="none" stroke-width="0" />
<line x1="771.60" y1="432.00" x2="771.60" y2="506.40" stroke="#bcbcbc" stroke-width="1.2" />
<line x1="432.70" y1="500.60" x2="771.60" y2="500.60" stroke="#a8a8a8" stroke-width="1.2" />
<path d="M432.90 500.60 L444.40 498.90 L444.40 502.30 Z" fill="#111" stroke="none" stroke-width="0" />
<path d="M771.40 500.60 L759.90 498.90 L759.90 502.30 Z" fill="#111" stroke="none" stroke-width="0" />
<text x="599.20" y="472.50" font-size="17.6" text-anchor="middle" font-weight="normal" fill="#1a1a1a" textLength="10.60" lengthAdjust="spacingAndGlyphs" >B</text>
<text x="599.10" y="497.00" font-size="17.6" text-anchor="middle" font-weight="normal" fill="#1a1a1a" textLength="10.60" lengthAdjust="spacingAndGlyphs" >A</text>
<text x="739.80" y="139.60" font-size="21.6" text-anchor="middle" font-weight="bold" fill="#0a0a0a" >W</text>
<text x="401.30" y="469.00" font-size="21.7" text-anchor="middle" font-weight="bold" fill="#0a0a0a" >V</text>
<text x="731.30" y="463.70" font-size="21.8" text-anchor="middle" font-weight="bold" fill="#0a0a0a" >X</text>
</g>
<!-- W detail -->
<g id="detW">
<text x="719.40" y="565.50" font-size="15.4" text-anchor="middle" font-weight="bold" fill="#0a0a0a" >W</text>
<line x1="710.10" y1="586.50" x2="837.60" y2="586.50" stroke="#787878" stroke-width="0.8" />
<line x1="716.50" y1="586.50" x2="728.50" y2="571.10" stroke="#787878" stroke-width="0.7" />
<line x1="731.60" y1="586.50" x2="743.60" y2="571.10" stroke="#787878" stroke-width="0.7" />
<line x1="746.70" y1="586.50" x2="758.70" y2="571.10" stroke="#787878" stroke-width="0.7" />
<line x1="761.80" y1="586.50" x2="773.80" y2="571.10" stroke="#787878" stroke-width="0.7" />
<line x1="776.90" y1="586.50" x2="788.90" y2="571.10" stroke="#787878" stroke-width="0.7" />
<line x1="792.00" y1="586.50" x2="804.00" y2="571.10" stroke="#787878" stroke-width="0.7" />
<line x1="807.10" y1="586.50" x2="819.10" y2="571.10" stroke="#787878" stroke-width="0.7" />
<line x1="822.20" y1="586.50" x2="834.20" y2="571.10" stroke="#787878" stroke-width="0.7" />
<path d="M769.50 674.50 L769.50 586.50 L785.30 586.50 L785.30 674.50" fill="none" stroke="#8a8a8a" stroke-width="0.7" />
<rect x="771.50" y="588.50" width="12.50" height="5.00" fill="#fff" stroke="#8a8a8a" stroke-width="0.7"/>
<path d="M771.50 641.60 L771.50 595.20 L784.00 595.20 L784.00 641.60" fill="none" stroke="#8a8a8a" stroke-width="0.7" />
<line x1="772.80" y1="595.20" x2="772.80" y2="641.60" stroke="#bbb" stroke-width="0.6" />
<path d="M775.40 621.20 L783.50 621.20 L783.50 701.20 L781.90 702.40 L780.80 705.60 L777.60 706.60 L775.40 704.40 Z" fill="#beffff" stroke="#8aa" stroke-width="0.6" />
<path d="M772.00 628.50 L773.40 627.60 L773.00 631.50 L774.80 632.50 L772.80 634.50 L774.60 636.00 L772.40 638.00 L773.60 641.40 L771.40 641.40 L771.40 629.00 Z" fill="#ccc" stroke="#777" stroke-width="0.5" />
<line x1="783.90" y1="628.00" x2="783.90" y2="641.40" stroke="#444" stroke-width="0.7" />
<line x1="769.50" y1="641.60" x2="771.50" y2="641.60" stroke="#8a8a8a" stroke-width="0.7" />
<line x1="784.00" y1="641.60" x2="785.30" y2="641.60" stroke="#8a8a8a" stroke-width="0.7" />
<line x1="803.90" y1="586.50" x2="803.90" y2="641.40" stroke="#787878" stroke-width="0.8" />
<line x1="787.00" y1="641.40" x2="807.50" y2="641.40" stroke="#969696" stroke-width="0.8" />
<path d="M803.90 586.70 L802.50 595.00 L805.30 595.00 Z" fill="#111" stroke="none" stroke-width="0" />
<path d="M803.90 641.20 L802.50 632.90 L805.30 632.90 Z" fill="#111" stroke="none" stroke-width="0" />
<text x="802.00" y="620.30" font-size="11.0" text-anchor="start" font-weight="normal" fill="#2a2a2a" transform="rotate(-90 802.00 620.30)" >40</text>
<line x1="744.60" y1="595.20" x2="744.60" y2="674.50" stroke="#787878" stroke-width="0.8" />
<line x1="740.10" y1="595.20" x2="771.50" y2="595.20" stroke="#969696" stroke-width="0.8" />
<line x1="740.10" y1="621.20" x2="775.40" y2="621.20" stroke="#969696" stroke-width="0.8" />
<path d="M744.60 595.40 L743.20 603.70 L746.00 603.70 Z" fill="#111" stroke="none" stroke-width="0" />
<path d="M744.60 621.00 L743.20 612.70 L746.00 612.70 Z" fill="#111" stroke="none" stroke-width="0" />
<text x="742.40" y="673.00" font-size="10.799999999999999" text-anchor="start" font-weight="normal" fill="#2a2a2a" textLength="41.20" lengthAdjust="spacingAndGlyphs" transform="rotate(-90 742.40 673.00)" >0~20mm</text>
<line x1="758.30" y1="656.30" x2="809.60" y2="656.30" stroke="#787878" stroke-width="0.8" />
<path d="M775.40 656.30 L767.10 654.90 L767.10 657.70 Z" fill="#111" stroke="none" stroke-width="0" />
<path d="M783.50 656.30 L791.80 654.90 L791.80 657.70 Z" fill="#111" stroke="none" stroke-width="0" />
<text x="801.90" y="654.80" font-size="10.6" text-anchor="start" font-weight="normal" fill="#2a2a2a" >6</text>
<line x1="752.90" y1="670.30" x2="826.00" y2="670.30" stroke="#787878" stroke-width="0.8" />
<path d="M769.50 670.30 L761.20 668.90 L761.20 671.70 Z" fill="#111" stroke="none" stroke-width="0" />
<path d="M785.30 670.30 L793.60 668.90 L793.60 671.70 Z" fill="#111" stroke="none" stroke-width="0" />
<text x="803.60" y="668.80" font-size="10.6" text-anchor="start" font-weight="normal" fill="#2a2a2a" >11.5</text>
</g>
<!-- V detail -->
<g id="detV">
<text x="378.00" y="758.70" font-size="15.4" text-anchor="middle" font-weight="bold" fill="#0a0a0a" >V</text>
<line x1="401.50" y1="755.20" x2="401.50" y2="868.00" stroke="#787878" stroke-width="0.8" />
<line x1="401.50" y1="756.80" x2="386.40" y2="767.70" stroke="#787878" stroke-width="0.7" />
<line x1="401.50" y1="771.80" x2="386.40" y2="782.70" stroke="#787878" stroke-width="0.7" />
<line x1="401.50" y1="786.80" x2="386.40" y2="797.70" stroke="#787878" stroke-width="0.7" />
<line x1="401.50" y1="801.80" x2="386.40" y2="812.70" stroke="#787878" stroke-width="0.7" />
<line x1="401.50" y1="816.80" x2="386.40" y2="827.70" stroke="#787878" stroke-width="0.7" />
<line x1="401.50" y1="831.80" x2="386.40" y2="842.70" stroke="#787878" stroke-width="0.7" />
<line x1="401.50" y1="846.80" x2="386.40" y2="857.70" stroke="#787878" stroke-width="0.7" />
<line x1="401.50" y1="861.80" x2="393.40" y2="867.60" stroke="#787878" stroke-width="0.7" />
<line x1="404.30" y1="763.80" x2="404.30" y2="830.40" stroke="#8a8a8a" stroke-width="0.8" />
<line x1="401.50" y1="801.70" x2="453.50" y2="801.70" stroke="#a0a0a0" stroke-width="1.5" />
<line x1="404.30" y1="830.40" x2="453.50" y2="830.40" stroke="#8a8a8a" stroke-width="0.8" />
<line x1="401.50" y1="832.30" x2="453.50" y2="832.30" stroke="#8a8a8a" stroke-width="0.8" />
<line x1="453.50" y1="830.40" x2="453.50" y2="832.30" stroke="#8a8a8a" stroke-width="0.8" />
<line x1="402.90" y1="801.70" x2="402.90" y2="832.30" stroke="#bbb" stroke-width="0.6" />
<path d="M472.40 803.40 L426.70 803.40 L426.70 811.60" fill="none" stroke="#8c8c8c" stroke-width="0.8" />
<path d="M426.70 821.60 L426.70 829.70 L472.40 829.70" fill="none" stroke="#8c8c8c" stroke-width="0.8" />
<path d="M470.60 805.00 L428.40 805.00 L428.40 809.90 L440.50 809.90 L440.50 823.30 L428.40 823.30 L428.40 828.20 L470.60 828.20" fill="none" stroke="#8c8c8c" stroke-width="0.7" />
<path d="M426.70 811.60 L427.60 811.10 L429.27 812.90 L430.93 811.10 L432.60 812.90 L434.27 811.10 L435.93 812.90 L437.60 811.10 L438.80 811.80 L438.80 821.40 L437.60 820.30 L435.93 822.10 L434.27 820.30 L432.60 822.10 L430.93 820.30 L429.27 822.10 L427.60 820.30 L426.70 821.60" fill="none" stroke="#707070" stroke-width="0.8" />
<path d="M446.6 814.6 A2.7 2.7 0 1 0 446.6 819.2" fill="none" stroke="#7a7a7a" stroke-width="1.7" stroke-linecap="round"/>
<line x1="440.50" y1="816.90" x2="442.00" y2="816.90" stroke="#8c8c8c" stroke-width="1.2" />
<path d="M459.8 814.6 A2.7 2.7 0 1 1 459.8 819.2" fill="none" stroke="#7a7a7a" stroke-width="1.7" stroke-linecap="round"/>
<line x1="464.40" y1="816.90" x2="466.00" y2="816.90" stroke="#8c8c8c" stroke-width="1.2" />
<path d="M470.60 810.40 L466.00 810.40 L466.00 813.00 L467.60 813.00 L467.60 820.80 L466.00 820.80 L466.00 823.40 L470.60 823.40" fill="none" stroke="#787878" stroke-width="0.8" />
<path d="M470.60 812.00 L468.90 812.00 L468.90 821.80 L470.60 821.80" fill="none" stroke="#909090" stroke-width="0.6" />
<line x1="467.60" y1="815.20" x2="470.60" y2="815.20" stroke="#8a8a8a" stroke-width="0.6" />
<line x1="467.60" y1="818.60" x2="470.60" y2="818.60" stroke="#8a8a8a" stroke-width="0.6" />
<line x1="469.80" y1="803.40" x2="469.80" y2="829.70" stroke="#8c8c8c" stroke-width="0.8" />
<line x1="471.80" y1="803.40" x2="471.80" y2="829.70" stroke="#8c8c8c" stroke-width="0.8" />
<path d="M478.0 802.4 Q467.6 816.6 478.0 830.4" fill="none" stroke="#808080" stroke-width="0.8"/>
<path d="M480.6 802.4 Q469.4 816.6 480.6 830.4" fill="none" stroke="#808080" stroke-width="0.8"/>
<path d="M473.4 804.4 Q476.8 816.6 473.4 828.8" fill="none" stroke="#aaa" stroke-width="0.6"/>
<path d="M476.00 802.30 L484.00 802.30" fill="none" stroke="#999" stroke-width="0.8" />
<path d="M521.4 803.7 L483.0 803.7 Q470.6 816.6 483.0 829.3 L521.4 829.3" fill="none" stroke="#c6c6c6" stroke-width="1.7"/>
<line x1="521.40" y1="802.90" x2="521.40" y2="810.20" stroke="#c6c6c6" stroke-width="1.7" />
<line x1="521.40" y1="822.80" x2="521.40" y2="830.10" stroke="#c6c6c6" stroke-width="1.7" />
<line x1="488.70" y1="816.60" x2="493.50" y2="816.60" stroke="#aaa" stroke-width="0.6" />
<line x1="491.10" y1="814.20" x2="491.10" y2="819.00" stroke="#aaa" stroke-width="0.6" />
<path d="M503.00 804.60 L504.20 806.60 L505.40 804.60" fill="none" stroke="#aaa" stroke-width="0.6" />
<path d="M503.00 828.40 L504.20 826.40 L505.40 828.40" fill="none" stroke="#aaa" stroke-width="0.6" />
<path d="M522.20 810.20 L508.10 810.20 L508.10 822.80 L522.20 822.80" fill="#fff" stroke="#bcbcbc" stroke-width="1.4" />
<path d="M510.40 812.50 L570.40 812.50 L572.00 814.20 L571.60 816.80 L568.60 818.20 L566.40 821.00 L510.40 821.00 Z" fill="#beffff" stroke="#a4c0c0" stroke-width="0.5" />
<path d="M521.00 812.00 L509.80 812.00 L509.80 821.30 L521.00 821.30" fill="none" stroke="#777" stroke-width="0.6" stroke-dasharray="1.2 0.8"/>
<line x1="426.60" y1="763.80" x2="426.60" y2="804.20" stroke="#787878" stroke-width="0.8" />
<line x1="404.30" y1="767.20" x2="477.00" y2="767.20" stroke="#787878" stroke-width="0.8" />
<path d="M404.50 767.20 L412.80 765.80 L412.80 768.60 Z" fill="#111" stroke="none" stroke-width="0" />
<path d="M426.40 767.20 L418.10 765.80 L418.10 768.60 Z" fill="#111" stroke="none" stroke-width="0" />
<text x="437.30" y="764.90" font-size="10.6" text-anchor="start" font-weight="normal" fill="#2a2a2a" textLength="38.60" lengthAdjust="spacingAndGlyphs" >0-20mm</text>
<line x1="426.60" y1="788.20" x2="521.30" y2="788.20" stroke="#787878" stroke-width="0.8" />
<line x1="521.30" y1="784.00" x2="521.30" y2="803.20" stroke="#969696" stroke-width="0.8" />
<path d="M426.80 788.20 L435.10 786.80 L435.10 789.60 Z" fill="#111" stroke="none" stroke-width="0" />
<path d="M521.10 788.20 L512.80 786.80 L512.80 789.60 Z" fill="#111" stroke="none" stroke-width="0" />
<text x="463.80" y="785.50" font-size="10.6" text-anchor="start" font-weight="normal" fill="#2a2a2a" >68.5</text>
<line x1="380.50" y1="801.70" x2="380.50" y2="832.30" stroke="#787878" stroke-width="0.8" />
<line x1="376.30" y1="801.70" x2="401.50" y2="801.70" stroke="#969696" stroke-width="0.8" />
<line x1="376.30" y1="832.30" x2="401.50" y2="832.30" stroke="#969696" stroke-width="0.8" />
<path d="M380.50 801.90 L379.10 810.20 L381.90 810.20 Z" fill="#111" stroke="none" stroke-width="0" />
<path d="M380.50 832.10 L379.10 823.80 L381.90 823.80 Z" fill="#111" stroke="none" stroke-width="0" />
<text x="378.70" y="826.80" font-size="10.6" text-anchor="start" font-weight="normal" fill="#2a2a2a" transform="rotate(-90 378.70 826.80)" >22.5</text>
<line x1="401.50" y1="847.30" x2="453.30" y2="847.30" stroke="#787878" stroke-width="0.8" />
<line x1="453.30" y1="832.30" x2="453.30" y2="851.30" stroke="#969696" stroke-width="0.8" />
<path d="M401.70 847.30 L410.00 845.90 L410.00 848.70 Z" fill="#111" stroke="none" stroke-width="0" />
<path d="M453.10 847.30 L444.80 845.90 L444.80 848.70 Z" fill="#111" stroke="none" stroke-width="0" />
<text x="427.10" y="845.10" font-size="10.6" text-anchor="middle" font-weight="normal" fill="#2a2a2a" >37</text>
<line x1="582.40" y1="786.80" x2="582.40" y2="837.70" stroke="#b4b4b4" stroke-width="0.9" />
<line x1="571.00" y1="812.50" x2="587.00" y2="812.50" stroke="#969696" stroke-width="0.8" />
<line x1="569.00" y1="821.10" x2="587.00" y2="821.10" stroke="#969696" stroke-width="0.8" />
<path d="M582.40 812.30 L581.00 804.00 L583.80 804.00 Z" fill="#111" stroke="none" stroke-width="0" />
<path d="M582.40 821.30 L581.00 829.60 L583.80 829.60 Z" fill="#111" stroke="none" stroke-width="0" />
<text x="580.90" y="794.20" font-size="10.6" text-anchor="start" font-weight="normal" fill="#2a2a2a" transform="rotate(-90 580.90 794.20)" >6</text>
</g>
<!-- X detail -->
<g id="detX">
<text x="757.90" y="755.00" font-size="15.4" text-anchor="middle" font-weight="bold" fill="#0a0a0a" >X</text>
<line x1="613.30" y1="796.10" x2="613.30" y2="847.00" stroke="#787878" stroke-width="0.8" />
<line x1="609.00" y1="812.50" x2="633.40" y2="812.50" stroke="#969696" stroke-width="0.8" />
<line x1="609.00" y1="821.10" x2="632.40" y2="821.10" stroke="#969696" stroke-width="0.8" />
<path d="M613.30 812.30 L611.90 804.00 L614.70 804.00 Z" fill="#111" stroke="none" stroke-width="0" />
<path d="M613.30 821.30 L611.90 829.60 L614.70 829.60 Z" fill="#111" stroke="none" stroke-width="0" />
<text x="611.00" y="845.40" font-size="10.6" text-anchor="start" font-weight="normal" fill="#2a2a2a" transform="rotate(-90 611.00 845.40)" >6</text>
<path d="M635.00 812.50 L697.30 812.50 L697.30 821.00 L632.60 821.00 L633.60 818.60 L636.60 817.00 L637.00 814.60 Z" fill="#beffff" stroke="#a4c0c0" stroke-width="0.5" />
<path d="M698.7 810.8 L686.0 810.8 Q684.6 811.2 684.8 812.4 M684.8 820.8 Q684.6 822.0 686.0 822.4 L698.7 822.4" fill="none" stroke="#b0b0b0" stroke-width="0.9"/>
<path d="M684.4 812.4 Q688.8 812.8 688.6 815.4 M688.6 817.8 Q688.8 820.6 684.4 820.8" fill="none" stroke="#4a6a6a" stroke-width="0.9"/>
<path d="M698.70 810.80 L698.70 822.40" fill="none" stroke="#c4c4c4" stroke-width="0.8" />
<path d="M699.60 810.60 L701.00 811.00 L704.30 814.00 L707.60 810.60 L708.80 810.00" fill="none" stroke="#555" stroke-width="0.8" />
<path d="M699.60 822.80 L701.00 822.40 L704.30 819.20 L707.60 822.80 L708.80 823.60" fill="none" stroke="#555" stroke-width="0.8" />
<rect x="708.8" y="809.8" width="4.8" height="14.4" rx="1.6" fill="#a4a4a4" stroke="#666" stroke-width="0.7"/>
<line x1="710.00" y1="811.20" x2="712.60" y2="813.20" stroke="#ddd" stroke-width="0.5" />
<line x1="710.00" y1="813.60" x2="712.60" y2="815.60" stroke="#ddd" stroke-width="0.5" />
<line x1="710.00" y1="816.00" x2="712.60" y2="818.00" stroke="#ddd" stroke-width="0.5" />
<line x1="710.00" y1="818.40" x2="712.60" y2="820.40" stroke="#ddd" stroke-width="0.5" />
<line x1="710.00" y1="820.80" x2="712.60" y2="822.80" stroke="#ddd" stroke-width="0.5" />
<line x1="713.40" y1="810.60" x2="713.40" y2="823.40" stroke="#333" stroke-width="0.9" />
<path d="M772.10 804.60 L713.80 804.60 L713.80 829.40 L772.10 829.40" fill="none" stroke="#9a9a9a" stroke-width="0.8" />
<path d="M755.70 806.10 L715.30 806.10 L715.30 827.80 L755.70 827.80" fill="none" stroke="#cacaca" stroke-width="0.7" />
<path d="M720.80 808.40 L715.30 808.40" fill="none" stroke="#aaa" stroke-width="0.7" />
<path d="M720.80 825.20 L715.30 825.20" fill="none" stroke="#aaa" stroke-width="0.7" />
<path d="M720.80 808.40 L720.80 811.40 L719.60 811.40" fill="none" stroke="#999" stroke-width="0.7" />
<path d="M720.80 825.20 L720.80 822.20 L719.60 822.20" fill="none" stroke="#999" stroke-width="0.7" />
<rect x="716.60" y="810.60" width="3.00" height="12.40" fill="none" stroke="#b0b0b0" stroke-width="0.7"/>
<line x1="727.70" y1="802.70" x2="772.10" y2="802.70" stroke="#909090" stroke-width="0.7" />
<line x1="727.70" y1="831.30" x2="772.10" y2="831.30" stroke="#909090" stroke-width="0.7" />
<line x1="755.70" y1="804.40" x2="755.70" y2="849.70" stroke="#969696" stroke-width="0.8" />
<line x1="769.40" y1="804.40" x2="769.40" y2="849.70" stroke="#969696" stroke-width="0.8" />
<path d="M772.50 793.25 L772.50 831.50 L786.30 831.50 L786.30 793.25" fill="none" stroke="#868686" stroke-width="0.8" />
<path d="M772.50 793.25 L774.30 793.25 L774.30 807.00 L783.70 807.00 L783.70 793.25 L786.30 793.25" fill="none" stroke="#8c8c8c" stroke-width="0.8" />
<line x1="784.90" y1="794.00" x2="784.90" y2="808.00" stroke="#c0c0c0" stroke-width="0.7" />
<path d="M773.3 809.1 L784.9 809.1 L784.9 828.2 Q784.9 829.7 783.4 829.7 L775.8 829.7 L775.8 826.8 L774.6 826.8 L774.6 826.0 L773.3 826.0 L773.3 820.9 L776.0 820.9 L776.0 818.3 L773.3 818.3 L773.3 815.1 L776.0 815.1 L776.0 812.0 L773.3 812.0 Z" fill="none" stroke="#8e8e8e" stroke-width="0.7"/>
<path d="M774.40 741.70 L776.40 742.00 L778.40 745.40 L781.20 746.60 L783.60 743.60 L783.60 806.40 L774.40 806.40 Z" fill="#beffff" stroke="#a8bcbc" stroke-width="0.5" />
<line x1="774.50" y1="795.00" x2="774.50" y2="804.00" stroke="#555" stroke-width="0.6" stroke-dasharray="2.2 1.2"/>
<line x1="783.50" y1="795.00" x2="783.50" y2="804.00" stroke="#555" stroke-width="0.6" stroke-dasharray="2.2 1.2"/>
<line x1="774.40" y1="806.50" x2="783.60" y2="806.50" stroke="#7aa" stroke-width="0.7" />
<line x1="758.40" y1="732.40" x2="809.00" y2="732.40" stroke="#787878" stroke-width="0.8" />
<line x1="774.40" y1="728.00" x2="774.40" y2="739.50" stroke="#969696" stroke-width="0.8" />
<line x1="783.60" y1="728.00" x2="783.60" y2="739.50" stroke="#969696" stroke-width="0.8" />
<path d="M774.40 732.40 L766.10 731.00 L766.10 733.80 Z" fill="#111" stroke="none" stroke-width="0" />
<path d="M783.60 732.40 L791.90 731.00 L791.90 733.80 Z" fill="#111" stroke="none" stroke-width="0" />
<text x="801.90" y="729.80" font-size="10.6" text-anchor="start" font-weight="normal" fill="#2a2a2a" >6</text>
<line x1="727.70" y1="787.90" x2="772.10" y2="787.90" stroke="#787878" stroke-width="0.8" />
<line x1="727.70" y1="784.00" x2="727.70" y2="803.50" stroke="#969696" stroke-width="0.8" />
<line x1="772.10" y1="784.80" x2="772.10" y2="793.20" stroke="#969696" stroke-width="0.8" />
<path d="M727.90 787.90 L736.20 786.50 L736.20 789.30 Z" fill="#111" stroke="none" stroke-width="0" />
<path d="M771.90 787.90 L763.60 786.50 L763.60 789.30 Z" fill="#111" stroke="none" stroke-width="0" />
<text x="750.30" y="785.70" font-size="10.6" text-anchor="middle" font-weight="normal" fill="#2a2a2a" >32</text>
<line x1="803.20" y1="793.20" x2="803.20" y2="831.60" stroke="#787878" stroke-width="0.8" />
<line x1="787.00" y1="793.20" x2="807.30" y2="793.20" stroke="#969696" stroke-width="0.8" />
<line x1="787.00" y1="831.60" x2="807.30" y2="831.60" stroke="#969696" stroke-width="0.8" />
<path d="M803.20 793.40 L801.80 801.70 L804.60 801.70 Z" fill="#111" stroke="none" stroke-width="0" />
<path d="M803.20 831.40 L801.80 823.10 L804.60 823.10 Z" fill="#111" stroke="none" stroke-width="0" />
<text x="800.90" y="822.60" font-size="10.6" text-anchor="start" font-weight="normal" fill="#2a2a2a" transform="rotate(-90 800.90 822.60)" >27.5</text>
<line x1="693.90" y1="845.60" x2="786.80" y2="845.60" stroke="#787878" stroke-width="0.8" />
<path d="M755.70 845.60 L747.40 844.20 L747.40 847.00 Z" fill="#111" stroke="none" stroke-width="0" />
<path d="M769.40 845.60 L777.70 844.20 L777.70 847.00 Z" fill="#111" stroke="none" stroke-width="0" />
<text x="695.70" y="843.50" font-size="10.6" text-anchor="start" font-weight="normal" fill="#2a2a2a" textLength="41.40" lengthAdjust="spacingAndGlyphs" >0~10mm</text>
<line x1="727.70" y1="864.30" x2="786.80" y2="864.30" stroke="#787878" stroke-width="0.8" />
<line x1="727.70" y1="831.00" x2="727.70" y2="868.40" stroke="#969696" stroke-width="0.8" />
<line x1="786.80" y1="831.60" x2="786.80" y2="868.40" stroke="#969696" stroke-width="0.8" />
<path d="M727.90 864.30 L736.20 862.90 L736.20 865.70 Z" fill="#111" stroke="none" stroke-width="0" />
<path d="M786.60 864.30 L778.30 862.90 L778.30 865.70 Z" fill="#111" stroke="none" stroke-width="0" />
<text x="757.00" y="861.80" font-size="10.6" text-anchor="middle" font-weight="normal" fill="#2a2a2a" >42</text>
</g>
</svg>
</body></html>
